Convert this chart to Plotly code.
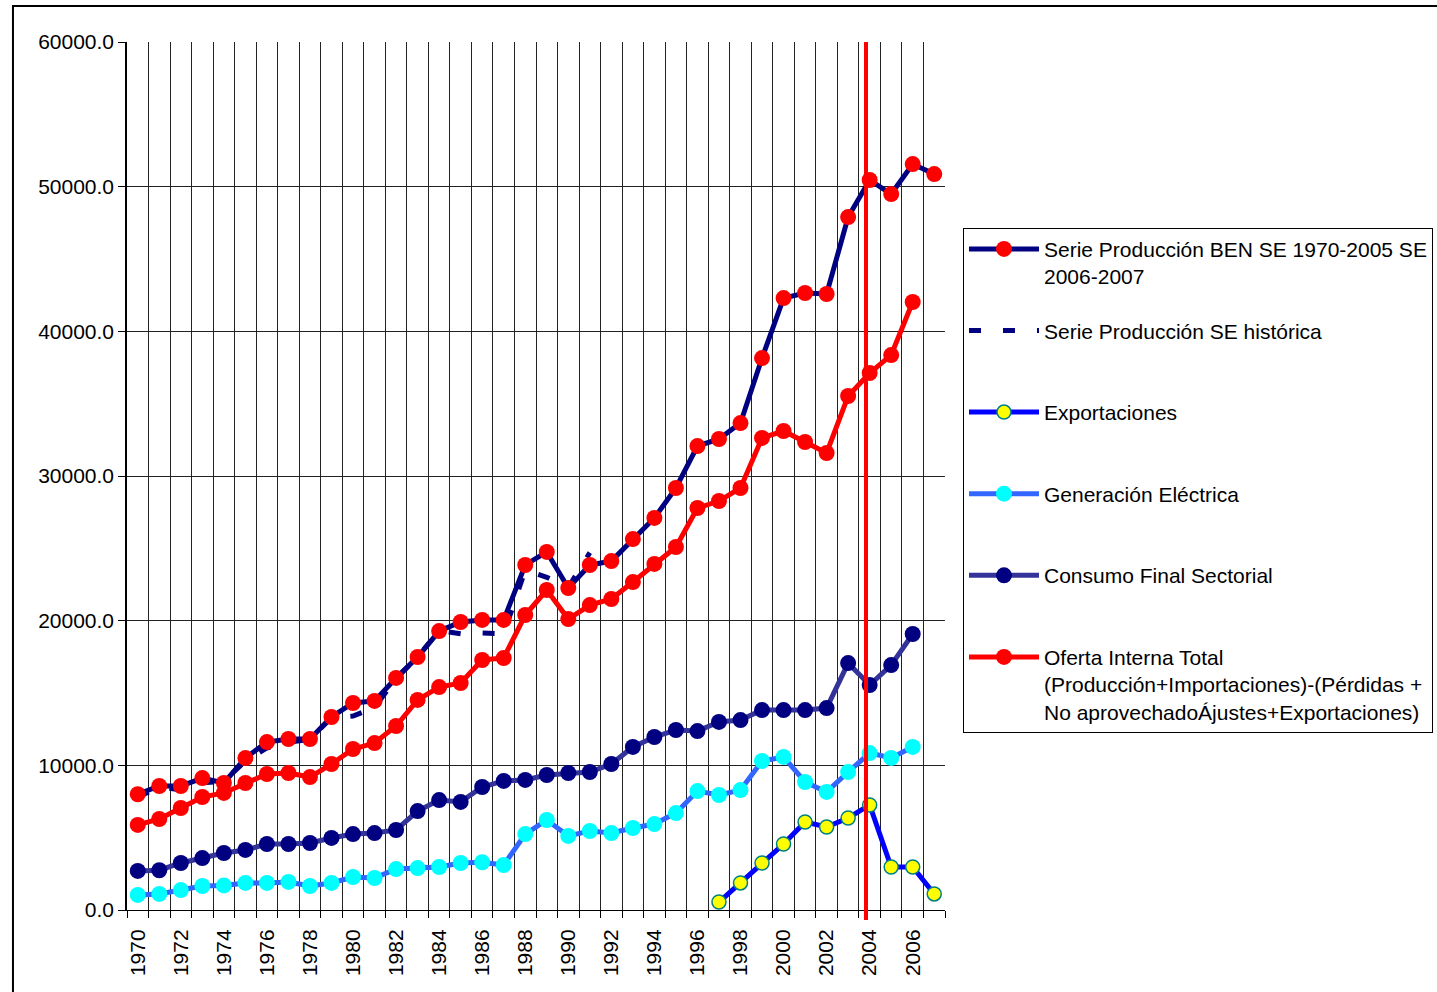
import plotly.graph_objects as go

years = list(range(1970, 2008))

ben_prod = [8000, 8570, 8570, 9120, 8780, 10500, 11610, 11820, 11820, 13340,
            14310, 14450, 16040, 17490, 19280, 19910, 20050, 20050, 23850, 24750,
            22260, 23850, 24120, 25640, 27100, 29170, 32070, 32560, 33660, 38150,
            42300, 42650, 42580, 47900, 50460, 49490, 51560, 50870]

hist_years = list(range(1970, 1992))
hist_prod = [7800, 8500, 8300, 8800, 8900, 10300, 11200, 11600, 11800, 13300,
             13400, 14000, 16000, 17500, 19300, 19100, 19150, 19100, 23500, 23000,
             22300, 24700]

exp_years = list(range(1997, 2008))
exportaciones = [550, 1870, 3250, 4560, 6080, 5740, 6360, 7260, 2970, 2970, 1110]

gen_years = list(range(1970, 2007))
generacion = [1040, 1110, 1380, 1660, 1700, 1870, 1870, 1940, 1660, 1870,
              2280, 2210, 2830, 2900, 2970, 3250, 3300, 3110, 5250, 6220,
              5120, 5460, 5320, 5670, 5940, 6700, 8220, 7950, 8290, 10300,
              10580, 8850, 8160, 9540, 10850, 10510, 11270]

consumo = [2700, 2750, 3250, 3590, 3940, 4150, 4560, 4560, 4630, 4980,
           5250, 5320, 5530, 6840, 7600, 7470, 8500, 8920, 8990, 9330,
           9470, 9540, 10090, 11270, 11960, 12440, 12370, 13000, 13130, 13820,
           13820, 13820, 13960, 17070, 15550, 16930, 19080]

oferta = [5880, 6290, 7050, 7810, 8090, 8780, 9400, 9470, 9190, 10090,
          11130, 11540, 12720, 14520, 15410, 15690, 17280, 17420, 20390, 22120,
          20110, 21080, 21500, 22670, 23920, 25090, 27790, 28270, 29170, 32630,
          33110, 32350, 31590, 35530, 37120, 38360, 42030]

x_labels = [str(y) for y in range(1970, 2007, 2)]
y_ticks = [0, 10000, 20000, 30000, 40000, 50000, 60000]
marker_year = 2003.83

names = [
    "Serie Producción BEN SE 1970-2005 SE<br>2006-2007",
    "Serie Producción SE histórica<br>\u00a0",
    "Exportaciones<br>\u00a0",
    "Generación Eléctrica<br>\u00a0",
    "Consumo Final Sectorial<br>\u00a0",
    "Oferta Interna Total<br>(Producción+Importaciones)-(Pérdidas +<br>No aprovechadoÁjustes+Exportaciones)",
]

fig = go.Figure()

# drawing order: bottom to top
fig.add_trace(go.Scatter(x=gen_years, y=generacion, mode="lines+markers", name=names[3],
                         line=dict(color="#3366FF", width=5),
                         marker=dict(color="#00FFFF", size=16),
                         legendrank=4, legendgroup="g4"))
fig.add_trace(go.Scatter(x=gen_years, y=consumo, mode="lines+markers", name=names[4],
                         line=dict(color="#333399", width=5),
                         marker=dict(color="#000080", size=16),
                         legendrank=5, legendgroup="g5"))
fig.add_trace(go.Scatter(x=gen_years, y=oferta, mode="lines+markers", name=names[5],
                         line=dict(color="#FF0000", width=5),
                         marker=dict(color="#FF0000", size=16),
                         legendrank=6, legendgroup="g6"))
fig.add_trace(go.Scatter(x=hist_years, y=hist_prod, mode="lines", name=names[1],
                         line=dict(color="#000080", width=5, dash="12px,22px"),
                         legendrank=2, legendgroup="g2"))
fig.add_trace(go.Scatter(x=years, y=ben_prod, mode="lines+markers", name=names[0],
                         line=dict(color="#000080", width=5),
                         marker=dict(color="#FF0000", size=16),
                         legendrank=1, legendgroup="g1"))
fig.add_trace(go.Scatter(x=exp_years, y=exportaciones, mode="lines+markers", name=names[2],
                         line=dict(color="#0000FF", width=5),
                         marker=dict(color="#FFFF00", size=14, line=dict(color="#008080", width=1.5)),
                         legendrank=3, legendgroup="g3"))

font_family = "Liberation Sans, Arial, sans-serif"

fig.update_layout(
    width=1437, height=992,
    paper_bgcolor="white", plot_bgcolor="white",
    margin=dict(l=127, r=492, t=42, b=82, autoexpand=False),
    font=dict(family=font_family, size=21, color="black"),
    showlegend=True,
    legend=dict(x=1.022, y=0.786, xanchor="left", yanchor="top",
                bgcolor="white", bordercolor="black", borderwidth=1,
                font=dict(size=21, family=font_family, color="black"),
                valign="top", tracegroupgap=24, itemwidth=70,
                traceorder="grouped"),
    xaxis=dict(range=[1969.5, 2007.5], tickmode="array",
               tickvals=[int(v) for v in x_labels], ticktext=x_labels,
               tickangle=-90, ticks="", showgrid=False, zeroline=False,
               showline=True, linecolor="black", linewidth=1,
               tickfont=dict(size=21), ticklabelstandoff=10,
               minor=dict(tickmode="array", tickvals=[y - 0.5 for y in range(1970, 2009)],
                          ticks="outside", ticklen=7, tickcolor="black",
                          showgrid=True, gridcolor="#222222", gridwidth=1)),
    yaxis=dict(range=[0, 60000], tickmode="array", tickvals=y_ticks,
               ticktext=[f"{v:.1f}" for v in y_ticks],
               ticks="outside", ticklen=7, tickcolor="black",
               showgrid=True, gridcolor="#222222", gridwidth=1,
               showline=True, linecolor="black", linewidth=1.5,
               zeroline=False, tickfont=dict(size=21)),
    shapes=[
        dict(type="line", xref="x", yref="paper", x0=marker_year, x1=marker_year,
             y0=-0.0115, y1=1.0, line=dict(color="#FF0000", width=4), layer="above"),
        dict(type="rect", xref="paper", yref="paper", x0=-0.1394, x1=1.65,
             y0=-0.2, y1=1.0415, line=dict(color="black", width=2),
             fillcolor="rgba(0,0,0,0)", layer="below"),
    ],
)

fig.write_html("out.html", config={"displayModeBar": False},
               post_script="document.body.style.margin='0';document.body.style.overflow='hidden';")
